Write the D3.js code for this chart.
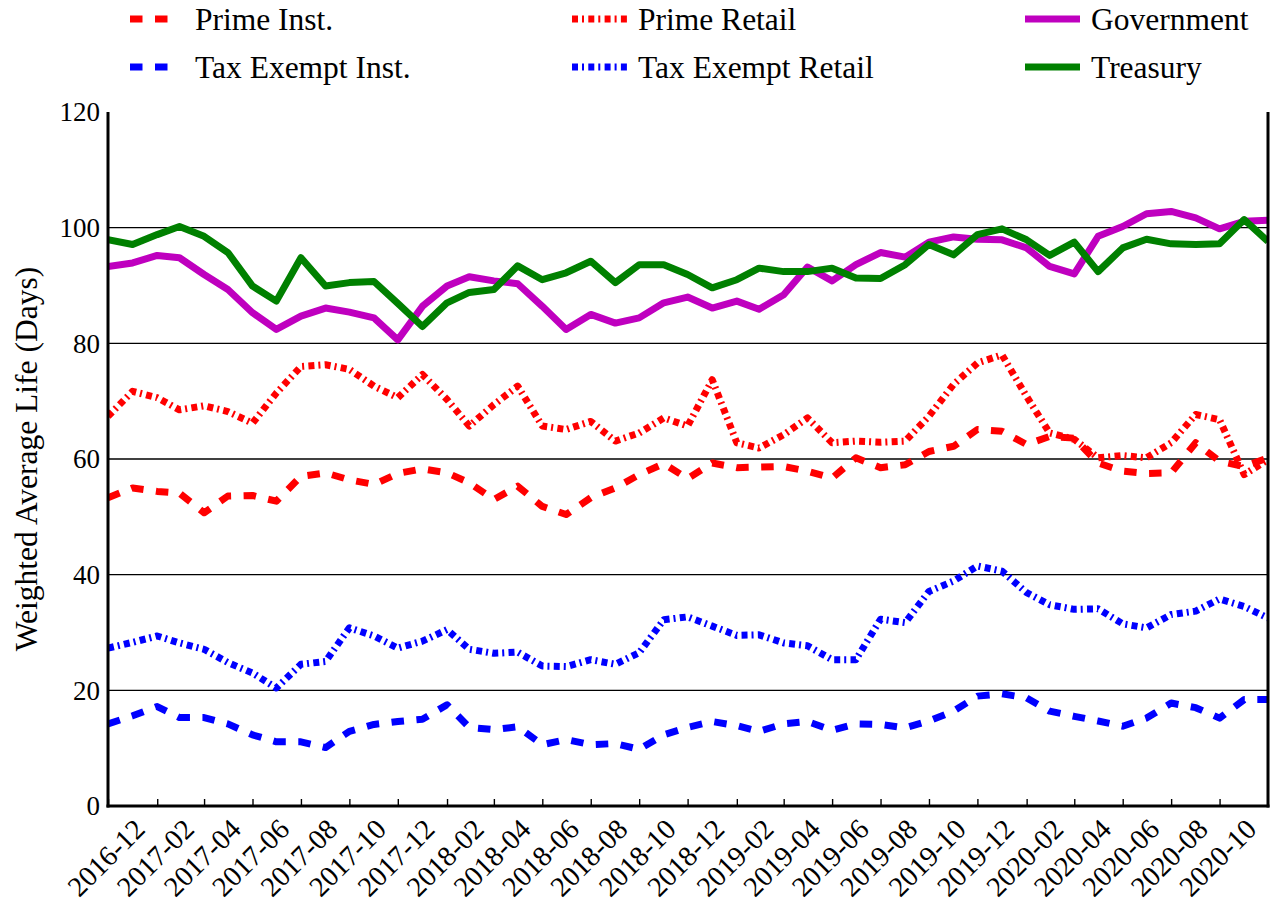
<!DOCTYPE html>
<html>
<head>
<meta charset="utf-8">
<script src="https://cdn.jsdelivr.net/npm/d3@7"></script>
<style>
  html, body { margin: 0; padding: 0; background: #fff; }
  svg { display: block; }
  text { font-family: "Liberation Serif", "Times New Roman", serif; fill: #000; }
</style>
</head>
<body>
<svg id="chart" width="1275" height="906"></svg>
<script>
const months = [
  "2016-12",
  "2017-01","2017-02","2017-03","2017-04","2017-05","2017-06","2017-07","2017-08","2017-09","2017-10","2017-11","2017-12",
  "2018-01","2018-02","2018-03","2018-04","2018-05","2018-06","2018-07","2018-08","2018-09","2018-10","2018-11","2018-12",
  "2019-01","2019-02","2019-03","2019-04","2019-05","2019-06","2019-07","2019-08","2019-09","2019-10","2019-11","2019-12",
  "2020-01","2020-02","2020-03","2020-04","2020-05","2020-06","2020-07","2020-08","2020-09","2020-10","2020-11","2020-12"
];
const tickLabels = ["2016-12","2017-02","2017-04","2017-06","2017-08","2017-10","2017-12",
  "2018-02","2018-04","2018-06","2018-08","2018-10","2018-12",
  "2019-02","2019-04","2019-06","2019-08","2019-10","2019-12",
  "2020-02","2020-04","2020-06","2020-08","2020-10"];
const yTicks = [0, 20, 40, 60, 80, 100, 120];

const primeInst = [53.3,55.0,54.4,54.1,50.7,53.6,53.7,52.7,57.0,57.6,56.4,55.6,57.5,58.3,57.6,55.9,53.0,55.3,51.8,50.4,53.3,55.0,57.3,59.2,56.6,59.3,58.5,58.6,58.7,57.9,56.7,60.2,58.5,59.0,61.3,62.2,65.1,64.8,62.5,63.9,63.6,59.3,57.9,57.5,57.6,62.8,59.6,58.7,60.2];
const taxExemptInst = [14.2,15.6,17.2,15.3,15.3,14.2,12.3,11.1,11.1,10.1,12.9,14.1,14.6,15.0,17.5,13.6,13.2,13.7,10.6,11.5,10.6,10.8,9.8,12.3,13.6,14.6,13.9,12.9,14.2,14.6,13.1,14.2,14.1,13.5,14.7,16.4,19.0,19.4,18.7,16.4,15.5,14.7,13.8,15.2,17.8,17.0,15.2,18.4,18.4];
const primeRetail = [67.4,71.7,70.6,68.5,69.2,68.2,66.2,71.4,76.0,76.3,75.5,72.6,70.6,74.6,70.3,65.7,69.4,72.6,65.7,65.1,66.5,63.1,64.5,67.1,65.7,73.7,62.8,61.9,64.2,67.1,62.8,63.1,62.9,63.1,67.4,72.9,76.6,78.0,70.8,64.5,63.4,60.2,60.6,60.2,62.8,67.7,66.8,57.3,59.9];
const taxExemptRetail = [27.3,28.3,29.4,28.2,27.1,24.8,23.0,20.4,24.5,25.0,30.8,29.4,27.3,28.5,30.5,27.1,26.4,26.6,24.2,24.1,25.3,24.5,26.5,32.2,32.7,31.1,29.5,29.6,28.2,27.7,25.3,25.3,32.3,31.7,37.1,38.9,41.5,40.6,36.9,34.8,34.0,34.1,31.5,30.8,33.1,33.7,35.8,34.5,32.5];
const government = [93.3,93.9,95.2,94.8,91.9,89.3,85.3,82.4,84.7,86.1,85.4,84.4,80.6,86.4,89.9,91.5,90.8,90.3,86.4,82.4,85.0,83.5,84.4,87.0,88.0,86.1,87.3,85.9,88.4,93.2,90.8,93.6,95.7,94.9,97.5,98.4,98.0,97.9,96.5,93.3,92.0,98.5,100.2,102.4,102.8,101.7,99.8,101.1,101.3];
const treasury = [97.9,97.1,98.8,100.2,98.5,95.7,89.9,87.3,94.8,89.9,90.5,90.7,86.9,82.9,87.0,88.8,89.3,93.4,91.0,92.2,94.2,90.5,93.6,93.6,91.9,89.6,91.0,93.0,92.4,92.4,93.0,91.3,91.2,93.6,97.1,95.3,98.8,99.8,97.9,95.2,97.5,92.4,96.5,98.0,97.2,97.1,97.2,101.4,97.6];

const seriesNames = ["Prime Inst.", "Tax Exempt Inst.", "Prime Retail", "Tax Exempt Retail", "Government", "Treasury"];
const seriesValues = [primeInst, taxExemptInst, primeRetail, taxExemptRetail, government, treasury];
const seriesColors = ["#ff0000", "#0000ff", "#ff0000", "#0000ff", "#bf00bf", "#008000"];
const seriesDash = ["12.5,12.5", "12.5,12.5", "6,4,2,4.3", "6,4,2,4.3", null, null];

const M = { left: 108, right: 1268, top: 112, bottom: 806 };
const parse = d3.timeParse("%Y-%m");

const x = d3.scaleTime()
  .domain([parse(months[0]), parse(months[months.length - 1])])
  .range([M.left, M.right]);
const y = d3.scaleLinear().domain([0, 120]).range([M.bottom, M.top]);

const svg = d3.select("#chart");

svg.append("defs").append("clipPath").attr("id", "plotclip")
  .append("rect").attr("x", M.left).attr("y", M.top)
  .attr("width", M.right - M.left).attr("height", M.bottom - M.top);

// grid lines
svg.append("g")
  .selectAll("line")
  .data(yTicks.filter(v => v > 0 && v < 120))
  .join("line")
  .attr("x1", M.left).attr("x2", M.right)
  .attr("y1", d => y(d)).attr("y2", d => y(d))
  .attr("stroke", "#000").attr("stroke-width", 1.4);

// lines
const lineGen = d3.line()
  .x((d, i) => x(parse(months[i])))
  .y(d => y(d));

const linesG = svg.append("g").attr("clip-path", "url(#plotclip)");
seriesValues.forEach((vals, k) => {
  linesG.append("path")
    .datum(vals)
    .attr("d", lineGen)
    .attr("fill", "none")
    .attr("stroke", seriesColors[k])
    .attr("stroke-width", 7)
    .attr("stroke-linejoin", "round")
    .attr("stroke-dasharray", seriesDash[k])
    .attr("stroke-linecap", "butt");
});

// x axis
const xAxis = d3.axisBottom(x)
  .tickValues(tickLabels.map(parse))
  .tickFormat(d3.timeFormat("%Y-%m"))
  .tickSizeInner(-7).tickSizeOuter(0);
const gx = svg.append("g").attr("transform", `translate(0,${M.bottom})`).call(xAxis);
gx.select(".domain").remove();
gx.selectAll(".tick line").attr("stroke", "#000").attr("stroke-width", 1.4);
gx.selectAll(".tick text")
  .attr("font-size", 28.5)
  .attr("text-anchor", "end")
  .attr("dy", null)
  .attr("y", 0)
  .attr("transform", "translate(38,25) rotate(-45)");

// y axis
const yAxis = d3.axisLeft(y).tickValues(yTicks).tickFormat(d3.format("d"))
  .tickSizeInner(0).tickSizeOuter(0).tickPadding(8);
const gy = svg.append("g").attr("transform", `translate(${M.left},0)`).call(yAxis);
gy.select(".domain").remove();
gy.selectAll(".tick text").attr("font-size", 27).attr("dy", "0.33em");

// spines
svg.append("line").attr("x1", M.left).attr("x2", M.left).attr("y1", M.top).attr("y2", M.bottom + 1.5)
  .attr("stroke", "#000").attr("stroke-width", 3);
svg.append("line").attr("x1", M.left - 1.5).attr("x2", M.right + 1.5).attr("y1", M.bottom).attr("y2", M.bottom)
  .attr("stroke", "#000").attr("stroke-width", 3);
svg.append("line").attr("x1", M.right).attr("x2", M.right).attr("y1", M.top).attr("y2", M.bottom + 1.5)
  .attr("stroke", "#000").attr("stroke-width", 3);

// y label
svg.append("text")
  .attr("transform", `translate(37,${(M.top + M.bottom) / 2}) rotate(-90)`)
  .attr("text-anchor", "middle")
  .attr("font-size", 31.5)
  .text("Weighted Average Life (Days)");

// legend (column-major: 3 columns x 2 rows)
const legX = [130, 572, 1025];
const legY = [19, 67];
seriesNames.forEach((name, k) => {
  const col = Math.floor(k / 2), row = k % 2;
  const g = svg.append("g").attr("transform", `translate(${legX[col]},${legY[row]})`);
  const len = col === 0 ? 38 : 55;
  g.append("line").attr("x1", 0).attr("x2", len).attr("y1", 0).attr("y2", 0)
    .attr("stroke", seriesColors[k]).attr("stroke-width", 7)
    .attr("stroke-dasharray", seriesDash[k]);
  g.append("text").attr("x", col === 0 ? 65 : 66).attr("y", 0).attr("dy", "0.35em")
    .attr("font-size", 31.5).text(name);
});
</script>
</body>
</html>
